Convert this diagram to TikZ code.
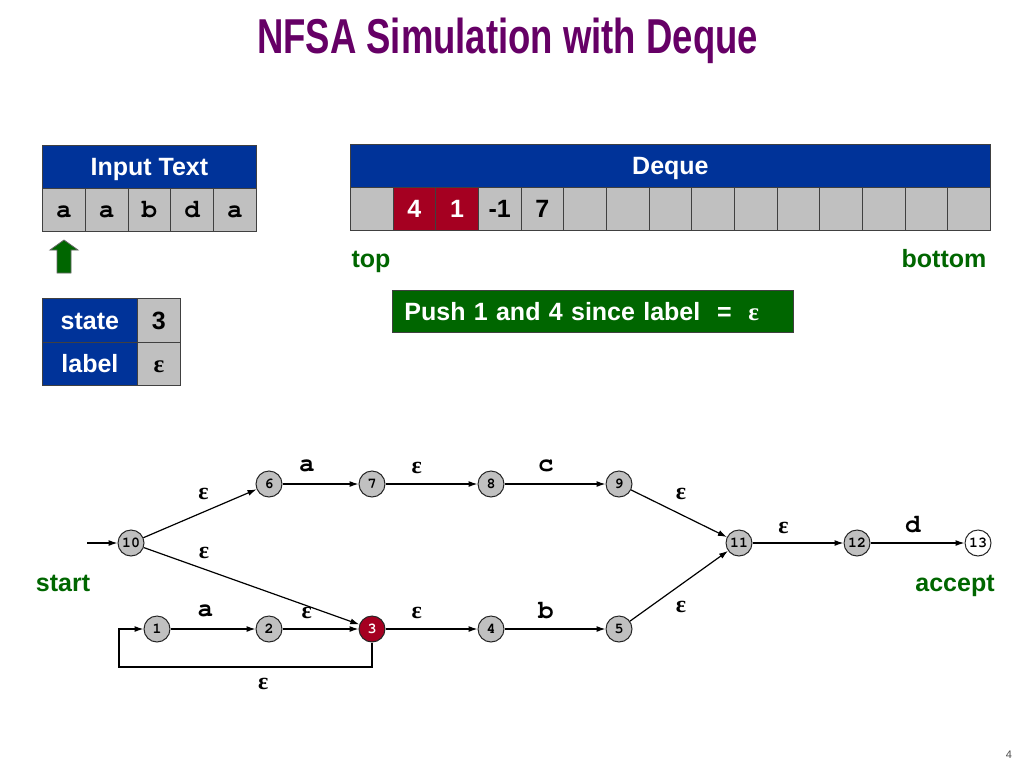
\documentclass[tikz,border=0pt]{standalone}
\usepackage{fontspec}
\usepackage{graphicx}
\setmainfont{Liberation Sans}
\newfontfamily\courierfont{texgyrecursor}[Extension=.otf, UprightFont=*-regular, BoldFont=*-bold]
\newfontfamily\greekfont{Liberation Serif}
\usetikzlibrary{arrows.meta, positioning}

\definecolor{boxblue}{RGB}{0,51,153}
\definecolor{cellgray}{RGB}{192,192,192}
\definecolor{hotred}{RGB}{165,0,33}
\definecolor{okgreen}{RGB}{0,102,0}
\definecolor{titlepurple}{RGB}{102,0,102}

\begin{document}
\begin{tikzpicture}[x=1pt, y=-1pt, >={Latex[length=9pt, width=6pt]},
  every node/.style={inner sep=0},
  box/.style={draw=black!75, line width=0.8pt, anchor=north west, text height=18pt, text depth=0pt, font=\fontsize{25}{30}\selectfont\bfseries},
  hdr/.style={box, fill=boxblue, text=white},
  cell/.style={box, fill=cellgray, minimum width=42.67pt, minimum height=43pt},
  hot/.style={cell, fill=hotred, text=white},
  tape/.style={cell, font=\courierfont\fontsize{26}{30}\selectfont\bfseries, text height=16pt},
  fsnode/.style={circle, draw=black!85, line width=1pt, fill=cellgray, minimum size=26pt, font=\courierfont\fontsize{15}{15}\selectfont\bfseries},
  sym/.style={font=\courierfont\fontsize{26}{26}\selectfont\bfseries},
  eps/.style={font=\greekfont\fontsize{24}{24}\selectfont\bfseries},
  note/.style={text=okgreen, font=\fontsize{25}{30}\selectfont\bfseries, anchor=base},
  trans/.style={->, line width=1.2pt}
]
\useasboundingbox (0,0) rectangle (1024,768);

\node[text=titlepurple, font=\fontsize{49}{55}\selectfont\bfseries, anchor=base] (title) at (507.5,53) {\scalebox{0.745}[1]{NFSA Simulation with Deque}};

% input text
\node[hdr, minimum width=214pt, minimum height=43pt] (inhdr) at (42,145) {Input Text};
\foreach \c [count=\i from 0] in {a,a,b,d,a}
  \node[tape, minimum width=42.8pt] (in\i) at ({42+42.8*\i},188) {\c};
\filldraw[fill=okgreen, draw=black!60, line width=0.8pt] (57,273) -- (57,250) -- (50,250) -- (64,240) -- (78,250) -- (71,250) -- (71,273) -- cycle;

% state and label
\node[hdr, minimum width=95pt, minimum height=44pt] (statekey) at (42,298) {state};
\node[cell, minimum width=43pt, minimum height=44pt] (stateval) at (137,298) {3};
\node[hdr, minimum width=95pt, minimum height=43pt] (labelkey) at (42,342) {label};
\node[cell, minimum width=43pt, minimum height=43pt] (labelval) at (137,342) {\greekfont ε};

% deque
\node[hdr, minimum width=640pt, minimum height=43pt] (dqhdr) at (350,144) {Deque};
\foreach \v/\s [count=\i from 1] in {4/hot, 1/hot, -1/cell, 7/cell}
  \node[\s] (dq\i) at ({350+42.67*\i},187) {\v};
\foreach \i in {0,5,6,...,14}
  \node[cell] (dq\i) at ({350+42.67*\i},187) {};
\node[note] (toplbl) at (371,267) {top};
\node[note] (botlbl) at (944,267) {bottom};

\node[box, fill=okgreen, text=white, minimum width=401pt, minimum height=42pt, text width=377pt, inner xsep=12pt, align=left] (pushmsg) at (392,290) {Push 1 and 4 since label \ = \ {\greekfont ε}};

% automaton
\node[fsnode] (n10) at (131,543) {10};
\node[fsnode] (n6) at (269,484) {6};
\node[fsnode] (n7) at (372,484) {7};
\node[fsnode] (n8) at (491,484) {8};
\node[fsnode] (n9) at (619,484) {9};
\node[fsnode] (n11) at (739,543) {11};
\node[fsnode] (n12) at (857,543) {12};
\node[fsnode, fill=white] (n13) at (978,543) {13};
\node[fsnode] (n1) at (157,629) {1};
\node[fsnode] (n2) at (269,629) {2};
\node[fsnode, fill=hotred, text=white] (n3) at (372,629) {3};
\node[fsnode] (n4) at (491,629) {4};
\node[fsnode] (n5) at (619,629) {5};

\coordinate (entry) at (87,543);
\draw[trans] (entry) -- (n10);
\draw[trans] (n10) -- (n6) node[eps, pos=.53, yshift=18pt]{ε};
\draw[trans] (n10) -- (n3) node[eps, pos=.28, yshift=16pt]{ε};
\draw[trans] (n6) -- (n7) node[sym, pos=.32, yshift=18pt]{a};
\draw[trans] (n7) -- (n8) node[eps, pos=.34, yshift=16pt]{ε};
\draw[trans] (n8) -- (n9) node[sym, pos=.41, yshift=18pt]{c};
\draw[trans] (n9) -- (n11) node[eps, pos=.52, yshift=20pt]{ε};
\draw[trans] (n1) -- (n2) node[sym, pos=.41, yshift=18pt]{a};
\draw[trans] (n2) -- (n3) node[eps, pos=.32, yshift=16pt]{ε};
\draw[trans] (n3) -- (n4) node[eps, pos=.34, yshift=16pt]{ε};
\draw[trans] (n4) -- (n5) node[sym, pos=.41, yshift=18pt]{b};
\draw[trans] (n5) -- (n11) node[eps, pos=.52, yshift=-22pt]{ε};
\draw[trans] (n11) -- (n12) node[eps, pos=.34, yshift=15pt]{ε};
\draw[trans] (n12) -- (n13) node[sym, pos=.45, yshift=18pt]{d};
\coordinate (loopcorner) at (119,667);
\draw[trans] (n3.south) |- node[eps, pos=.715, yshift=-17pt]{ε} (loopcorner) |- (n1.west);

\node[note] (startlbl) at (63,591) {start};
\node[note] (acceptlbl) at (955,591) {accept};

\node[font=\fontsize{11}{11}\selectfont, text=black!70] (pgnum) at (1009,755) {4};
\end{tikzpicture}
\end{document}
